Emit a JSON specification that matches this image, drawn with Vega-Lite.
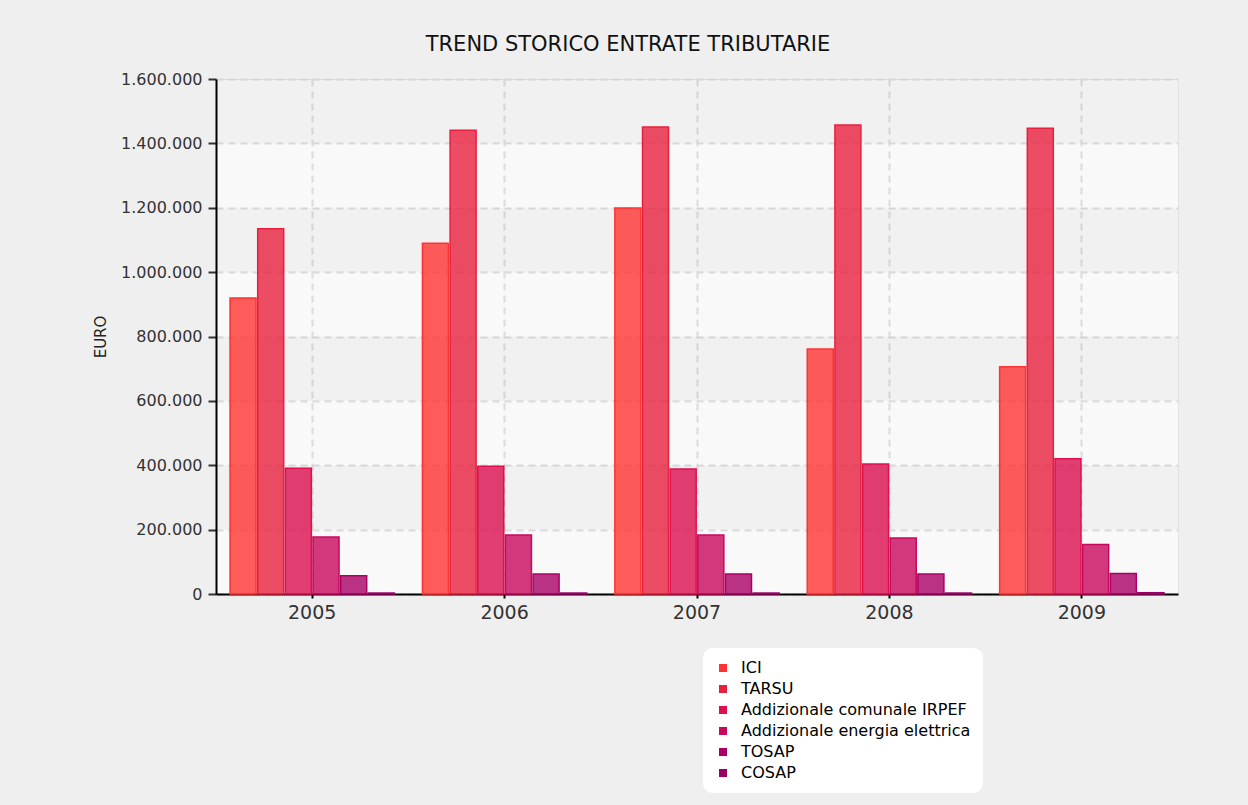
{
  "$schema": "https://vega.github.io/schema/vega-lite/v6.json",
  "autosize": "none",
  "width": 962,
  "height": 515,
  "padding": {"left": 216, "top": 79, "right": 70, "bottom": 211},
  "background": "#efefef",
  "config": {
    "locale": {"number": {"decimal": ",", "thousands": ".", "grouping": [3], "currency": ["€", ""]}},
    "view": {"fill": "#f9f9f9", "stroke": "#e2e2e2"},
    "font": "DejaVu Sans"
  },
  "title": {
    "text": "TREND STORICO ENTRATE TRIBUTARIE",
    "fontSize": 21,
    "fontWeight": "normal",
    "color": "#111111",
    "anchor": "middle",
    "dx": -69,
    "offset": 16
  },
  "datasets": {
    "bands": [
      {"lo": 1400000, "hi": 1600000},
      {"lo": 1000000, "hi": 1200000},
      {"lo": 600000, "hi": 800000},
      {"lo": 200000, "hi": 400000}
    ],
    "entrate": [
      {"anno": "2005", "voce": "ICI", "valore": 920000},
      {"anno": "2005", "voce": "TARSU", "valore": 1135000},
      {"anno": "2005", "voce": "Addizionale comunale IRPEF", "valore": 391000},
      {"anno": "2005", "voce": "Addizionale energia elettrica", "valore": 177000},
      {"anno": "2005", "voce": "TOSAP", "valore": 57000},
      {"anno": "2005", "voce": "COSAP", "valore": 3000},
      {"anno": "2006", "voce": "ICI", "valore": 1090000},
      {"anno": "2006", "voce": "TARSU", "valore": 1441000},
      {"anno": "2006", "voce": "Addizionale comunale IRPEF", "valore": 397000},
      {"anno": "2006", "voce": "Addizionale energia elettrica", "valore": 183000},
      {"anno": "2006", "voce": "TOSAP", "valore": 62000},
      {"anno": "2006", "voce": "COSAP", "valore": 3000},
      {"anno": "2007", "voce": "ICI", "valore": 1199000},
      {"anno": "2007", "voce": "TARSU", "valore": 1451000},
      {"anno": "2007", "voce": "Addizionale comunale IRPEF", "valore": 388000},
      {"anno": "2007", "voce": "Addizionale energia elettrica", "valore": 183000},
      {"anno": "2007", "voce": "TOSAP", "valore": 62000},
      {"anno": "2007", "voce": "COSAP", "valore": 3000},
      {"anno": "2008", "voce": "ICI", "valore": 761000},
      {"anno": "2008", "voce": "TARSU", "valore": 1457000},
      {"anno": "2008", "voce": "Addizionale comunale IRPEF", "valore": 404000},
      {"anno": "2008", "voce": "Addizionale energia elettrica", "valore": 174000},
      {"anno": "2008", "voce": "TOSAP", "valore": 62000},
      {"anno": "2008", "voce": "COSAP", "valore": 3000},
      {"anno": "2009", "voce": "ICI", "valore": 706000},
      {"anno": "2009", "voce": "TARSU", "valore": 1447000},
      {"anno": "2009", "voce": "Addizionale comunale IRPEF", "valore": 420000},
      {"anno": "2009", "voce": "Addizionale energia elettrica", "valore": 154000},
      {"anno": "2009", "voce": "TOSAP", "valore": 64000},
      {"anno": "2009", "voce": "COSAP", "valore": 4000}
    ]
  },
  "layer": [
    {
      "data": {"name": "bands"},
      "mark": {"type": "rect", "fill": "#000000", "fillOpacity": 0.03},
      "encoding": {
        "y": {
          "field": "lo",
          "type": "quantitative",
          "scale": {"domain": [0, 1600000], "nice": false},
          "axis": {
            "title": "EURO",
            "titleFontSize": 15,
            "titleFontWeight": "normal",
            "titleColor": "#222222",
            "titlePadding": 12,
            "format": ",d",
            "values": [0, 200000, 400000, 600000, 800000, 1000000, 1200000, 1400000, 1600000],
            "labelFontSize": 16,
            "labelColor": "#333333",
            "labelPadding": 6,
            "domainColor": "#000000",
            "domainWidth": 2,
            "tickColor": "#333333",
            "tickSize": 8,
            "tickWidth": 2,
            "grid": true,
            "gridColor": "#dcdcdc",
            "gridWidth": 2,
            "gridDash": [7, 5]
          }
        },
        "y2": {"field": "hi"}
      }
    },
    {
      "data": {"name": "entrate"},
      "mark": {"type": "bar", "fillOpacity": 0.8, "strokeWidth": 1.5},
      "encoding": {
        "x": {
          "field": "anno",
          "type": "nominal",
          "scale": {"paddingInner": 0.146, "paddingOuter": 0.073},
          "axis": {
            "title": null,
            "labelAngle": 0,
            "labelFontSize": 19,
            "labelColor": "#333333",
            "labelPadding": 5,
            "domainColor": "#000000",
            "domainWidth": 2,
            "tickColor": "#000000",
            "tickSize": 4,
            "tickWidth": 2,
            "bandPosition": 0.5,
            "grid": true,
            "gridColor": "#dcdcdc",
            "gridWidth": 2,
            "gridDash": [7, 5]
          }
        },
        "xOffset": {
          "field": "voce",
          "type": "nominal",
          "sort": ["ICI", "TARSU", "Addizionale comunale IRPEF", "Addizionale energia elettrica", "TOSAP", "COSAP"],
          "scale": {"paddingInner": 0.06}
        },
        "y": {
          "field": "valore",
          "type": "quantitative"
        },
        "color": {
          "field": "voce",
          "type": "nominal",
          "sort": ["ICI", "TARSU", "Addizionale comunale IRPEF", "Addizionale energia elettrica", "TOSAP", "COSAP"],
          "scale": {"range": ["#ff3333", "#e8203f", "#dd0f4f", "#c8085c", "#aa0066", "#990066"]},
          "legend": {
            "title": null,
            "orient": "none",
            "legendX": 487,
            "legendY": 569,
            "fillColor": "#ffffff",
            "cornerRadius": 10,
            "padding": 12,
            "symbolType": "square",
            "symbolSize": 64,
            "symbolOpacity": 1,
            "symbolStrokeWidth": 0,
            "labelFontSize": 16,
            "labelColor": "#000000",
            "labelLimit": 300,
            "rowPadding": 5,
            "labelOffset": 10
          }
        },
        "stroke": {
          "field": "voce",
          "type": "nominal",
          "sort": ["ICI", "TARSU", "Addizionale comunale IRPEF", "Addizionale energia elettrica", "TOSAP", "COSAP"],
          "scale": {"range": ["#ff3333", "#e8203f", "#dd0f4f", "#c8085c", "#aa0066", "#990066"]},
          "legend": null
        }
      }
    }
  ]
}
